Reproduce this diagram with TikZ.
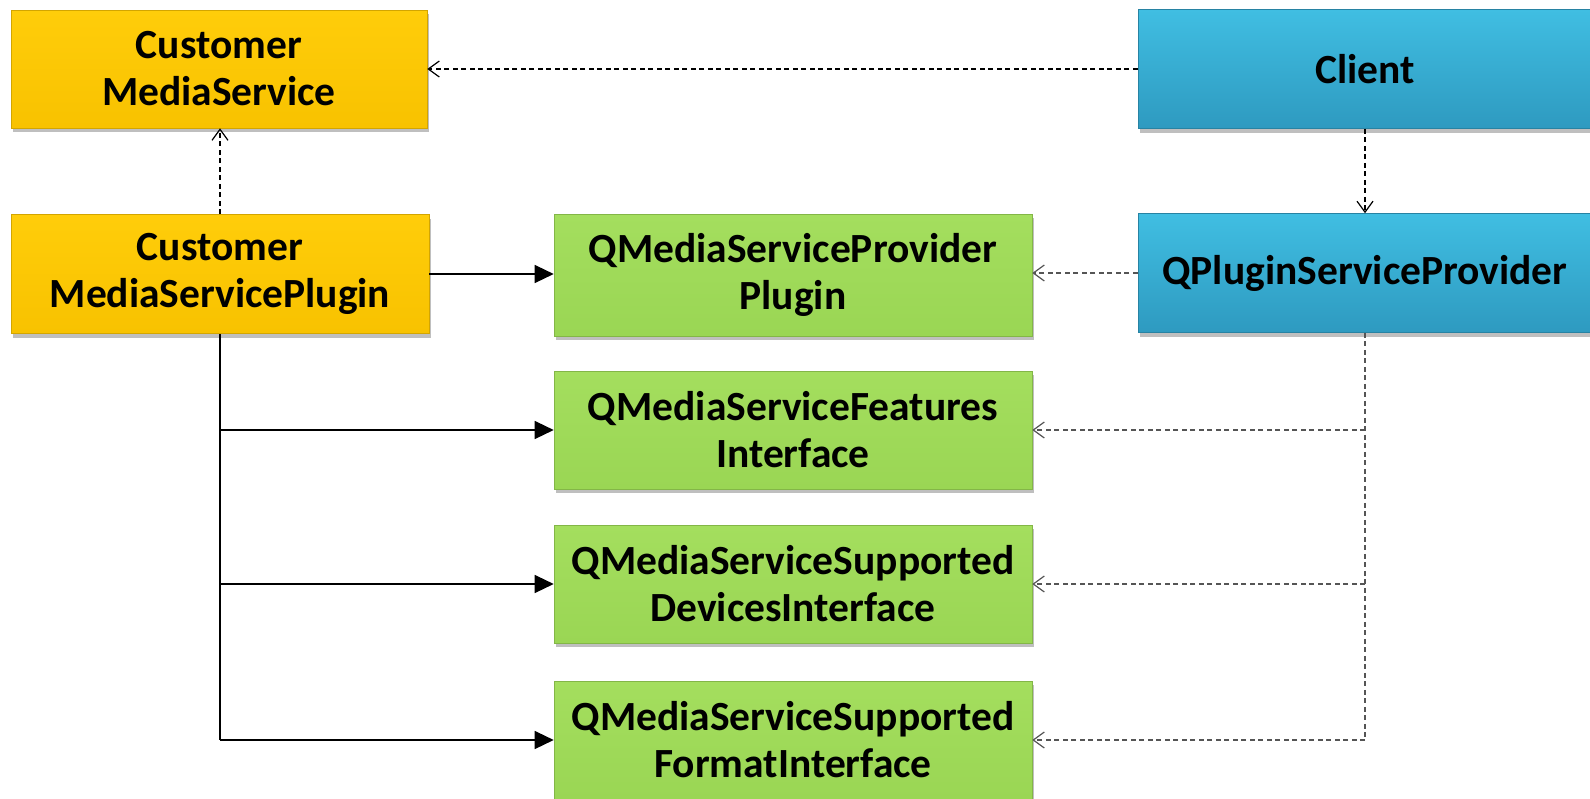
\documentclass[tikz,border=0pt]{standalone}
\usepackage{fontspec}
\setmainfont{Carlito}
\usetikzlibrary{arrows.meta,shadows}
\definecolor{yelTop}{HTML}{FFCD0A}
\definecolor{yelBot}{HTML}{F8C200}
\definecolor{grnTop}{HTML}{A4DE5E}
\definecolor{grnBot}{HTML}{9AD654}
\definecolor{bluTop}{HTML}{40BEE2}
\definecolor{bluBot}{HTML}{2E9AC0}
\definecolor{dashgray}{HTML}{555555}
\begin{document}
\begin{tikzpicture}[x=1pt,y=-1pt,
  box/.style={rectangle, inner sep=0pt, align=center,
    font=\fontsize{41.5}{47}\selectfont\bfseries,
    drop shadow={shadow xshift=2pt, shadow yshift=-4pt, opacity=0.25, fill=black}},
  yelbox/.style={box, top color=yelTop, bottom color=yelBot, draw=yelBot!85!black, line width=0.6pt},
  grnbox/.style={box, top color=grnTop, bottom color=grnBot, draw=grnBot!85!black, line width=0.6pt},
  blubox/.style={box, top color=bluTop, bottom color=bluBot, draw=bluBot!85!black, line width=0.6pt},
  dep/.style={draw=black, line width=1.2pt, dash pattern=on 5pt off 3.5pt,
    -{Straight Barb[length=11pt, width=16pt, line width=1.2pt]}},
  depg/.style={draw=dashgray, line width=1.2pt, dash pattern=on 5pt off 3.5pt,
    -{Straight Barb[length=11pt, width=16pt, line width=1.2pt]}},
  depgline/.style={draw=dashgray, line width=1.2pt, dash pattern=on 5pt off 3.5pt},
  assoc/.style={draw=black, line width=1.3pt, -{Triangle[length=19pt, width=18pt]}},
  assocline/.style={draw=black, line width=1.3pt}
]
\useasboundingbox (0,0) rectangle (1590,798);
\fill[white] (0,0) rectangle (1590,798);

\node[yelbox, minimum width=416pt, minimum height=118pt] (cms) at (219,69) {Customer\\MediaService};
\node[yelbox, minimum width=418pt, minimum height=119pt] (cmsp) at (220,274) {Customer\\MediaServicePlugin};
\node[blubox, minimum width=454pt, minimum height=119pt] (client) at (1365,69) {Client};
\node[blubox, minimum width=454pt, minimum height=119pt] (qpsp) at (1365,273) {QPluginServiceProvider};

\node[grnbox, minimum width=478pt, minimum height=122pt] (g1) at (793,275) {QMediaServiceProvider\\Plugin};
\node[grnbox, minimum width=478pt, minimum height=118pt] (g2) at (793,430) {QMediaServiceFeatures\\Interface};
\node[grnbox, minimum width=478pt, minimum height=118pt] (g3) at (793,584) {QMediaServiceSupported\\DevicesInterface};
\node[grnbox, minimum width=478pt, minimum height=118pt] (g4) at (793,740) {QMediaServiceSupported\\FormatInterface};

% dependencies
\draw[dep] (client.west) -- (client.west -| cms.east);
\draw[dep] (cmsp.north) -- (cmsp.north |- cms.south);
\draw[dep] (client.south) -- (qpsp.north);

% realizations from plugin
\draw[assoc] (cmsp.east) -- (cmsp.east -| g1.west);
\draw[assocline] (cmsp.south) -- (cmsp.south |- g4.west);
\draw[assoc] (cmsp.south |- g2.west) -- (g2.west);
\draw[assoc] (cmsp.south |- g3.west) -- (g3.west);
\draw[assoc] (cmsp.south |- g4.west) -- (g4.west);

% provider usage
\draw[depg] (qpsp.west) -- (qpsp.west -| g1.east);
\draw[depgline] (qpsp.south) -- (qpsp.south |- g4.east);
\draw[depg] (qpsp.south |- g2.east) -- (g2.east);
\draw[depg] (qpsp.south |- g3.east) -- (g3.east);
\draw[depg] (qpsp.south |- g4.east) -- (g4.east);
\end{tikzpicture}
\end{document}
